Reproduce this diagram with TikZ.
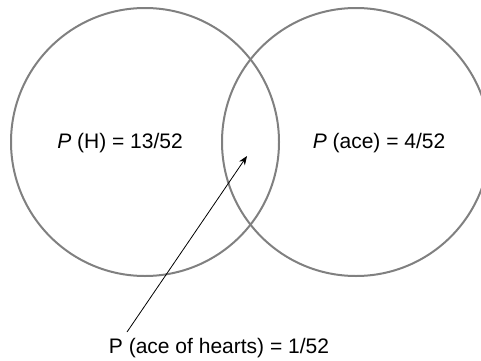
\documentclass[tikz,border=0pt]{standalone}
\usepackage{fontspec}
\setmainfont{Liberation Sans}
\usetikzlibrary{arrows.meta,positioning}

\begin{document}
\begin{tikzpicture}[x=1pt,y=1pt]
\tikzstyle{every node}=[font=\fontsize{21}{25}\selectfont, inner sep=0pt]
\tikzstyle{event}=[draw=black!50, line width=2pt]
\useasboundingbox (0,0) rectangle (481,360);
\clip (0,0) rectangle (481,360);
% the two events
\draw[event] (145,218) circle (134);
\draw[event] (356,218) circle (134);
\node (hearts) at (120,217) {\textit{P} (H) = 13/52};
\node (ace) at (379,217) {\textit{P} (ace) = 4/52};
\node (both) at (219,12) {P (ace of hearts) = 1/52};
% pointer into the overlap
\coordinate (tail) at (127,28);
\coordinate (tip) at (247,204);
\draw[-{Stealth[length=9pt,width=7pt]}, line width=0.8pt] (tail) -- (tip);
\end{tikzpicture}
\end{document}
